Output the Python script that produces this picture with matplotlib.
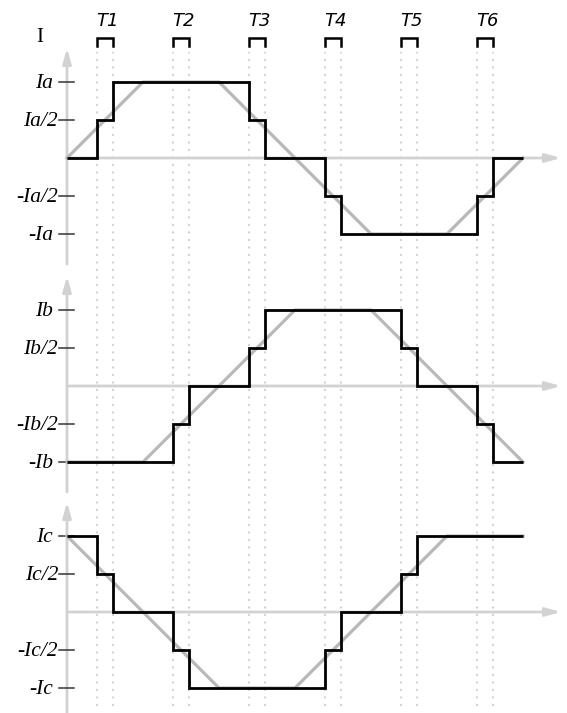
import matplotlib
matplotlib.use("Agg")
import matplotlib.pyplot as plt

# ---- data ----
step_edges = [0, 2, 3, 7, 8, 12, 13, 17, 18, 22, 23, 27, 28, 30]
step_a = [0, 0.5, 1, 1, 1, 0.5, 0, -0.5, -1, -1, -1, -0.5, 0]
step_b = [-1, -1, -1, -0.5, 0, 0.5, 1, 1, 1, 0.5, 0, -0.5, -1]
step_c = [1, 0.5, 0, -0.5, -1, -1, -1, -0.5, 0, 0.5, 1, 1, 1]

trap_t = [0, 5, 10, 15, 20, 25, 30]
trap_a = [0, 1, 1, 0, -1, -1, 0]
trap_b = [-1, -1, 0, 1, 1, 0, -1]
trap_c = [1, 0, -1, -1, 0, 1, 1]

t_starts = [2, 7, 12, 17, 22, 27]
t_width = 1
t_labels = ["T1", "T2", "T3", "T4", "T5", "T6"]

level_vals = [1, 0.5, -0.5, -1]
labels_a = ["Ia", "Ia/2", "-Ia/2", "-Ia"]
labels_b = ["Ib", "Ib/2", "-Ib/2", "-Ib"]
labels_c = ["Ic", "Ic/2", "-Ic/2", "-Ic"]

# ---- layout (pixel geometry) ----
W, H = 567, 713
x0_px = 67.0
px_per_t = 15.2
px_per_I = 76.0
zeros_px = [158, 386, 612]

fig = plt.figure(figsize=(W / 100, H / 100), dpi=100)

AX_GRAY = "#d2d2d2"
DOT_GRAY = "#d4d4d4"
TRAP_GRAY = "#b8b8b8"
SERIF = ["Liberation Serif", "DejaVu Serif"]

axes = []
for zp in zeros_px:
    ax = fig.add_axes([x0_px / W, 0, 1 - x0_px / W, 1])
    ax.set_xlim(0, (W - x0_px) / px_per_t)
    ax.set_ylim((zp - H) / px_per_I, zp / px_per_I)
    ax.axis("off")
    ax.patch.set_alpha(0)
    axes.append(ax)

# dotted vertical lines and brackets (on first axes, spanning figure)
axA = axes[0]
zA = zeros_px[0]
top_dot = (zA - 52) / px_per_I
bot_dot = (zA - 706) / px_per_I
for s in t_starts:
    for xx in (s, s + t_width):
        axA.plot([xx, xx], [bot_dot, top_dot], color=DOT_GRAY, lw=1.5,
                 ls=(0, (1, 2.6)), clip_on=False, zorder=1)
br_top = (zA - 38) / px_per_I
br_bot = (zA - 46) / px_per_I
lab_y = (zA - 21) / px_per_I
for s, lab in zip(t_starts, t_labels):
    axA.plot([s, s, s + t_width, s + t_width], [br_bot, br_top, br_top, br_bot],
             color="black", lw=1.8, solid_joinstyle="miter", clip_on=False)
    axA.text(s + t_width / 2 + 0.15, lab_y, lab, ha="center", va="center",
             fontsize=13, family="DejaVu Sans", style="italic", color="black")

axA.text((40 - x0_px) / px_per_t, (zA - 38) / px_per_I, "I", ha="center",
         va="center", fontsize=15, family=SERIF, color="black")

panels = [(trap_a, step_a, labels_a), (trap_b, step_b, labels_b), (trap_c, step_c, labels_c)]
x_tip = (561 - x0_px) / px_per_t
for ax, zp, (trap, step, labs) in zip(axes, zeros_px, panels):
    y_tip = 110 / px_per_I
    y_bot = -min(106, H - zp) / px_per_I
    # y axis
    ax.annotate("", xy=(0, y_tip), xytext=(0, y_bot),
                arrowprops=dict(arrowstyle="-|>,head_length=0.9,head_width=0.25",
                                color=AX_GRAY, lw=2, shrinkA=0, shrinkB=0),
                annotation_clip=False, zorder=2)
    # x axis
    ax.annotate("", xy=(x_tip, 0), xytext=(0, 0),
                arrowprops=dict(arrowstyle="-|>,head_length=0.9,head_width=0.25",
                                color=AX_GRAY, lw=2, shrinkA=0, shrinkB=0),
                annotation_clip=False, zorder=2)
    # ticks and labels
    for v, lab in zip(level_vals, labs):
        ax.plot([(59 - x0_px) / px_per_t, (74 - x0_px) / px_per_t], [v, v],
                color="#333333", lw=1.1, clip_on=False, zorder=3)
        right_px = 58 if "/" in lab else 53
        ax.text((right_px - x0_px) / px_per_t, v - 0.02, lab, ha="right", va="center",
                fontsize=15.5, family=SERIF, style="italic", color="black")
    # trapezoid (ideal current)
    ax.plot(trap_t, trap, color=TRAP_GRAY, lw=2.3, zorder=4, clip_on=False)
    # stepped current
    ax.stairs(step, step_edges, baseline=None, color="black", lw=2.0, zorder=5)

fig.savefig("out.png", dpi=100)
